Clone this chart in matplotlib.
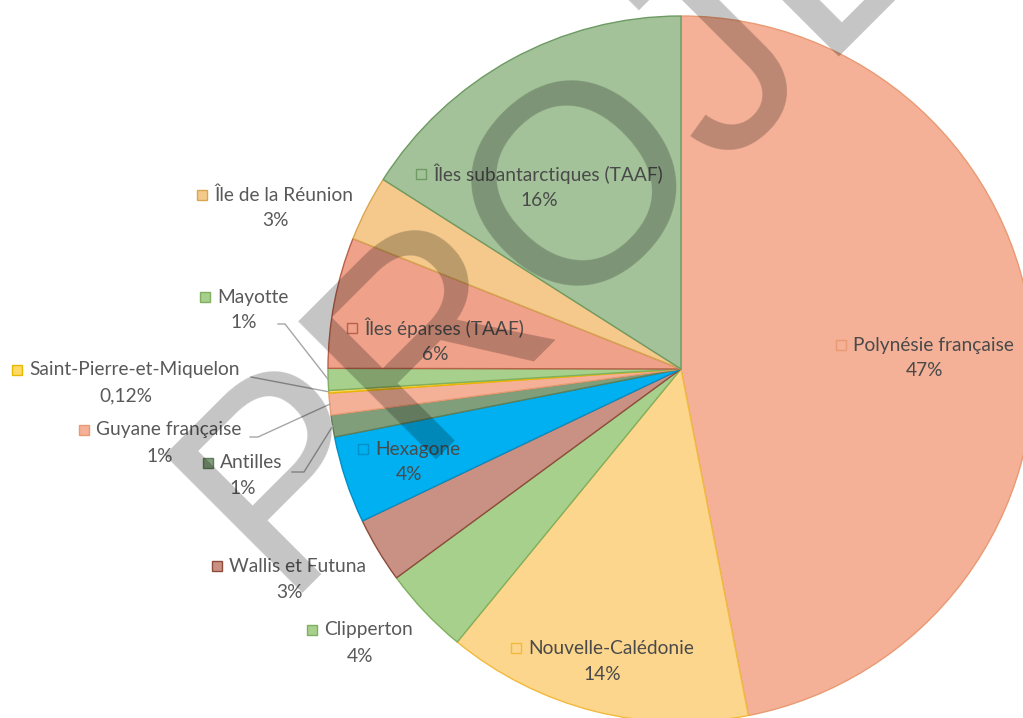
import matplotlib
matplotlib.use("Agg")
import matplotlib.pyplot as plt
import numpy as np

names = ["Polynésie française", "Nouvelle-Calédonie", "Clipperton", "Wallis et Futuna",
         "Hexagone", "Antilles", "Guyane française", "Saint-Pierre-et-Miquelon",
         "Mayotte", "Îles éparses (TAAF)", "Île de la Réunion", "Îles subantarctiques (TAAF)"]
values = [47, 14, 4, 3, 4, 1, 1, 0.12, 1, 6, 3, 16]
colors = ["#F4B197", "#FCD68C", "#A8D08D", "#C99183", "#00B0F0", "#819E7A",
          "#F4B197", "#FFD966", "#A8D08D", "#EFA18A", "#F4C98B", "#A3C299"]
edges = ["#E99A73", "#F2BA3C", "#7FAF5F", "#8E4B3A", "#0090C8", "#5E7E57",
         "#E99A73", "#E6B800", "#7FAF5F", "#B8604A", "#D9A650", "#6E9A63"]

# label anchors (pixel coords, y from top): square x, text row y
label_pos = [(841, 345), (516, 648), (312, 630), (217, 566), (363, 449), (208, 463),
             (84, 430), (17, 370), (205, 297), (352, 328), (202, 195), (421, 174)]
inside = {0, 1, 4, 9, 11}
# leader lines for the thin slices: start point of the grey connector
leaders = {5: [(292, 472), (304, 472)], 6: [(250, 437), (258, 437)],
           7: [(251, 377)], 8: [(278, 324), (285, 324)]}

W, H = 1023, 718
cx, cy, R = 681, 369, 353

fig = plt.figure(figsize=(W / 100, H / 100), dpi=100)
ax = fig.add_axes([0, 0, 1, 1])
wedges, _ = ax.pie(values, colors=colors, startangle=-90, counterclock=True,
                   center=(cx, cy), radius=R, normalize=True,
                   wedgeprops=dict(linewidth=1.0))
for w, e in zip(wedges, edges):
    w.set_edgecolor(e)
ax.set_xlim(0, W)
ax.set_ylim(H, 0)
ax.set_aspect("equal")
ax.axis("off")

font = "Lato"
for i, (name, v) in enumerate(zip(names, values)):
    sx, sy = label_pos[i]
    tcol = "#4A4A4A" if i in inside else "#595959"
    pct = (f"{v:.2f}".replace(".", ",") if v < 1 else f"{v:.0f}") + "%"
    ax.add_patch(plt.Rectangle((sx - 5, sy - 5), 10, 10, facecolor=colors[i],
                               edgecolor=edges[i], lw=1, zorder=4))
    t = ax.text(sx + 12, sy, name, fontsize=13.8, family=font, color=tcol,
                ha="left", va="center", zorder=5)
    fig.canvas.draw()
    bb = t.get_window_extent().transformed(ax.transData.inverted())
    mid = (sx - 5 + bb.x1) / 2
    ax.text(mid, sy + 26, pct, fontsize=13.8, family=font, color=tcol,
            ha="center", va="center", zorder=5)

for i, pts in leaders.items():
    w = wedges[i]
    a = np.deg2rad((w.theta1 + w.theta2) / 2)
    end = (cx + R * np.cos(a), cy + R * np.sin(a))
    xs = [p[0] for p in pts] + [end[0]]
    ys = [p[1] for p in pts] + [end[1]]
    ax.plot(xs, ys, color="#A6A6A6", lw=1, zorder=3)

# watermark
ax.text(280, 593, "PROJET", fontsize=205, family="Liberation Sans", color="black",
        alpha=0.23, rotation=45, rotation_mode="anchor", ha="left", va="baseline",
        zorder=10)

fig.savefig("out.png", dpi=100)
